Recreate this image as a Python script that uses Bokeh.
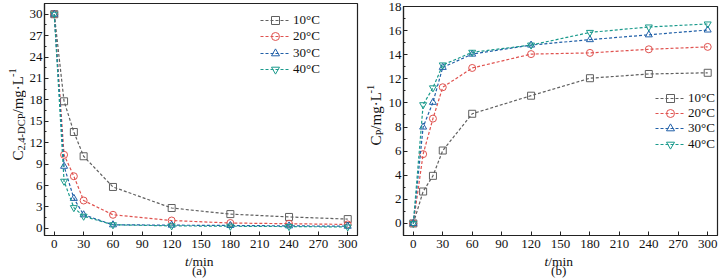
from bokeh.plotting import figure
from bokeh.layouts import row, column
from bokeh.models import Label, SingleIntervalTicker, Range1d, Legend, LegendItem
from bokeh.embed import file_html
from bokeh.resources import INLINE

t = [0, 10, 20, 30, 60, 120, 180, 240, 300]
series_names = ["10\u00b0C", "20\u00b0C", "30\u00b0C", "40\u00b0C"]

a10 = [30, 17.8, 13.5, 10.1, 5.8, 2.85, 2.0, 1.6, 1.3]
a20 = [30, 10.3, 7.3, 3.9, 1.9, 1.1, 0.75, 0.65, 0.55]
a30 = [30, 8.7, 4.2, 1.9, 0.5, 0.45, 0.4, 0.35, 0.3]
a40 = [30, 6.6, 2.9, 1.7, 0.5, 0.35, 0.3, 0.25, 0.2]

b10 = [0, 2.65, 3.95, 6.05, 9.1, 10.6, 12.05, 12.4, 12.5]
b20 = [0, 5.75, 8.7, 11.3, 12.9, 14.05, 14.15, 14.45, 14.65]
b30 = [0, 8.0, 10.05, 12.95, 14.05, 14.8, 15.25, 15.65, 16.05]
b40 = [0, 9.85, 11.25, 13.15, 14.2, 14.8, 15.85, 16.3, 16.55]

x_ticks_interval = 30

COLORS = ["#606060", "#e0524f", "#2160a8", "#1a9a8c"]
MARKERS = ["square", "circle", "triangle", "inverted_triangle"]
FONT = "Liberation Serif"


def style(p, y_interval):
    p.xgrid.visible = False
    p.ygrid.visible = False
    p.outline_line_color = "#222222"
    p.outline_line_width = 1.2
    p.background_fill_color = "white"
    p.border_fill_color = "white"
    p.xaxis.ticker = SingleIntervalTicker(interval=x_ticks_interval, num_minor_ticks=0)
    p.yaxis.ticker = SingleIntervalTicker(interval=y_interval, num_minor_ticks=2)
    for ax in (p.xaxis[0], p.yaxis[0]):
        ax.axis_line_color = "#222222"
        ax.axis_line_width = 1.2
        ax.major_tick_in = 4
        ax.major_tick_out = 0
        ax.minor_tick_in = 2
        ax.minor_tick_out = 0
        ax.major_tick_line_color = "#222222"
        ax.minor_tick_line_color = "#222222"
        ax.major_label_text_font = FONT
        ax.major_label_text_font_size = "13px"
        ax.major_label_text_color = "#111111"
    p.yaxis.major_label_standoff = 2
    p.xaxis.major_label_standoff = 4


def add_series(p, ys_list, legend_x, legend_ys):
    for ys, name, c, m, ly in zip(ys_list, series_names, COLORS, MARKERS, legend_ys):
        r1 = p.line(t, ys, line_color=c, line_width=1.2, line_dash="3 2")
        r2 = p.scatter(t, ys, marker=m, size=7, line_color=c, line_width=1,
                       fill_color="white", fill_alpha=0.0)
        lg = Legend(items=[LegendItem(label=name, renderers=[r1, r2])],
                    location=(legend_x, ly))
        lg.border_line_color = None
        lg.background_fill_alpha = 0
        lg.padding = 0
        lg.margin = 0
        lg.spacing = 0
        lg.glyph_width = 30
        lg.glyph_height = 20
        lg.label_height = 20
        lg.label_standoff = 3
        lg.label_text_font = FONT
        lg.label_text_font_size = "13px"
        lg.label_text_color = "#111111"
        p.add_layout(lg)


def text_fig(w, h):
    f = figure(width=w, height=h, output_backend="svg", toolbar_location=None,
               x_range=Range1d(0, w), y_range=Range1d(0, h), min_border=0,
               min_border_left=0, min_border_right=0, min_border_top=0, min_border_bottom=0,
               x_axis_location=None, y_axis_location=None, outline_line_color=None,
               title=None)
    f.xgrid.visible = False
    f.ygrid.visible = False
    f.background_fill_color = "white"
    f.border_fill_color = "white"
    return f


def lab(p, x, y, text, size, angle=0, align="left", italic=False):
    p.add_layout(Label(x=x, y=y, text=text,
                       angle=angle, angle_units="deg", text_font=FONT,
                       text_font_size=size, text_align=align, text_baseline="middle",
                       text_color="#111111",
                       text_font_style="italic" if italic else "normal"))


# ---------- Panel (a) ----------
p1 = figure(width=334, height=253, output_backend="svg", toolbar_location=None,
            x_range=Range1d(-10, 310), y_range=Range1d(-1.0, 31.5),
            min_border_left=15, min_border_right=3, min_border_top=3, min_border_bottom=18)
style(p1, 3)
add_series(p1, [a10, a20, a30, a40], 216, [205, 189, 172, 156])

ya1 = text_fig(26, 279)
lab(ya1, 17, 119, "C", "15px", 90)
lab(ya1, 20.5, 129, "2,4-DCP", "10.5px", 90)
lab(ya1, 17, 166, "/mg\u00b7L", "15px", 90)
lab(ya1, 12, 202.5, "-1", "10.5px", 90)

xa1 = text_fig(334, 26)
lab(xa1, 150, 18.5, "t", "13.5px", italic=True)
lab(xa1, 154, 18.5, "/min", "13.5px")
lab(xa1, 165, 9.5, "(a)", "13px", align="center")

# ---------- Panel (b) ----------
p2 = figure(width=336, height=253, output_backend="svg", toolbar_location=None,
            x_range=Range1d(-10, 310), y_range=Range1d(-1.0, 18.0),
            min_border_left=18, min_border_right=4, min_border_top=6, min_border_bottom=18)
style(p2, 2)
add_series(p2, [b10, b20, b30, b40], 252, [127, 112, 97, 81])

ya2 = text_fig(25, 279)
lab(ya2, 15, 134, "C", "15px", 90)
lab(ya2, 19, 144, "P", "10.5px", 90)
lab(ya2, 15, 149.8, "/mg\u00b7L", "15px", 90)
lab(ya2, 10, 186, "-1", "10.5px", 90)

xa2 = text_fig(336, 26)
lab(xa2, 151, 18.5, "t", "13.5px", italic=True)
lab(xa2, 155, 18.5, "/min", "13.5px")
lab(xa2, 166, 9.5, "(b)", "13px", align="center")

layout = row(ya1, column(p1, xa1), ya2, column(p2, xa2))
open("out.html", "w").write(file_html(layout, INLINE))
